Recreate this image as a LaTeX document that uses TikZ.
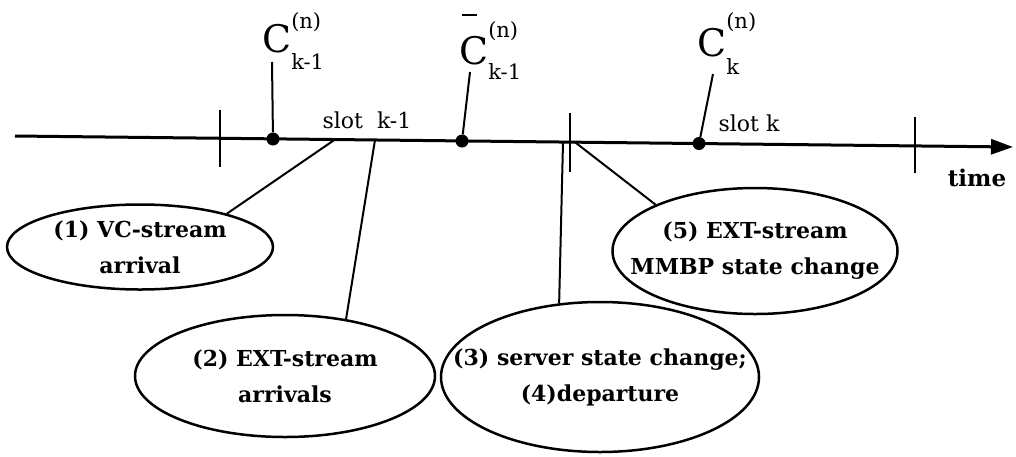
\documentclass[tikz,border=0pt]{standalone}
\usepackage{fontspec}
\setmainfont{DejaVu Serif}
\usetikzlibrary{shapes.geometric,arrows.meta}

% C^{(n)}_{..} labels: symbol, index, raise of (n), drop of index
\newcommand{\epochlabel}[4]{{\fontsize{38}{40}\selectfont #1}{\fontsize{21}{24}\selectfont\rlap{\raisebox{#3}{(n)}}\raisebox{-#4}{#2}}}
\newcommand{\barC}{\makebox[0pt][l]{\hspace{3pt}\raisebox{48pt}{\rule{15pt}{1.8pt}}}C}

\tikzset{
  event/.style={draw, ellipse, line width=2.5pt, inner xsep=-50pt, inner ysep=-10pt,
    align=center, font=\fontsize{22}{36}\selectfont\bfseries},
  epoch/.style={circle, fill, inner sep=0pt, minimum size=13pt},
  pointer/.style={line width=2pt},
  slotmark/.style={line width=2pt},
  axis/.style={line width=3pt, -{Triangle[length=22pt,width=15pt]}},
}

\begin{document}
\begin{tikzpicture}[x=1pt,y=-1pt]
  \useasboundingbox (0,0) rectangle (1016,456);

  % time axis
  \coordinate (start) at (15,136);
  \coordinate (end) at (1013,147);
  \draw[axis] (start) -- (end);
  \node[anchor=base, font=\fontsize{23}{26}\selectfont\bfseries] (time) at (977,186) {time};

  % slot boundaries
  \foreach \x/\a/\b in {220/110/167, 570/113/172, 915/117/173}
    \draw[slotmark] (\x,\a) -- (\x,\b);
  \node[anchor=base, font=\fontsize{22}{26}\selectfont] (slotA) at (367,128) {slot\ \ k-1};
  \node[anchor=base, font=\fontsize{22}{26}\selectfont] (slotB) at (749,131) {slot k};

  % epochs on the axis
  \node[epoch] (d1) at (273,139) {};
  \node[epoch] (d2) at (462,141) {};
  \node[epoch] (d3) at (699,143.5) {};

  \node[anchor=base west, inner sep=0pt] (C1) at (262,52) {\epochlabel{C}{k-1}{24pt}{17pt}};
  \node[anchor=base west, inner sep=0pt] (C2) at (459,64) {\epochlabel{\barC}{k-1}{27pt}{15pt}};
  \node[anchor=base west, inner sep=0pt] (C3) at (697,56) {\epochlabel{C}{k}{28pt}{18pt}};
  \coordinate (t1) at (272,62);
  \coordinate (t2) at (470,72);
  \coordinate (t3) at (713,74);
  \draw[pointer] (t1) -- (d1);
  \draw[pointer] (t2) -- (d2);
  \draw[pointer] (t3) -- (d3);

  % events
  \node[event, minimum width=266pt, minimum height=85pt] (ev1) at (140,247) {(1) VC-stream\\arrival};
  \node[event, minimum width=300pt, minimum height=122pt] (ev2) at (285,376) {(2) EXT-stream\\arrivals};
  \node[event, minimum width=318pt, minimum height=150pt] (ev3) at (600,377) {(3) server state change;\\(4)departure};
  \node[event, minimum width=285pt, minimum height=126pt] (ev5) at (755,251) {(5) EXT-stream\\MMBP state change};

  \coordinate (e1) at (335,139.5);
  \coordinate (e2) at (375,140);
  \coordinate (e3) at (563,142);
  \coordinate (e5) at (575,142.2);
  \draw[pointer] (e1) -- (ev1.21);
  \draw[pointer] (e2) -- (ev2.43);
  \draw[pointer] (e3) -- (ev3.119);
  \draw[pointer] (e5) -- (ev5.155);
\end{tikzpicture}
\end{document}
